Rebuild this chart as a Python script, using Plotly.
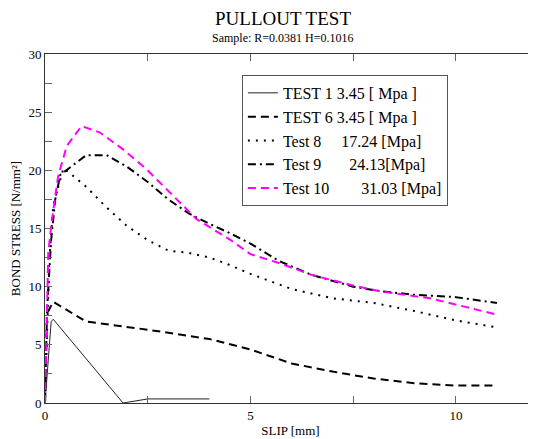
import plotly.graph_objects as go

NB = "\u00a0"

t1_x = [0, 0.15, 0.2, 1.9, 2.5, 4.0]
t1_y = [0, 7.0, 7.2, 0, 0.35, 0.35]

t6_x = [0, 0.05, 0.2, 1.0, 2.5, 4.0, 5.0, 6.0, 7.0, 8.0, 9.0, 10.0, 11.0]
t6_y = [0, 7.7, 8.7, 7.0, 6.3, 5.5, 4.6, 3.4, 2.7, 2.1, 1.7, 1.5, 1.5]

t8_x = [0, 0.1, 0.2, 0.45, 1.0, 1.5, 2.0, 2.5, 3.0, 3.5, 4.0, 4.4, 5.0, 6.0, 7.0, 8.0, 9.0, 10.0, 11.0]
t8_y = [0, 12.0, 17.0, 20.2, 18.6, 16.8, 15.2, 14.0, 13.1, 12.9, 12.5, 12.0, 11.1, 9.8, 9.0, 8.6, 7.9, 7.1, 6.5]

t9_x = [0, 0.05, 0.15, 0.25, 0.37, 0.7, 1.0, 1.5, 2.0, 2.5, 3.0, 3.5, 4.0, 4.5, 5.0, 5.7, 6.5, 7.5, 8.2, 9.0, 10.0, 11.0]
t9_y = [0, 8.0, 14.0, 17.5, 19.6, 20.5, 21.3, 21.3, 20.3, 19.0, 17.5, 16.3, 15.4, 14.6, 13.7, 12.2, 11.0, 10.0, 9.6, 9.3, 9.1, 8.6]

t10_x = [0, 0.08, 0.16, 0.32, 0.53, 0.89, 1.34, 1.9, 2.47, 3.12, 3.69, 4.5, 5.0, 5.72, 6.5, 7.5, 8.15, 9.37, 10.2, 11.0]
t10_y = [0, 12.9, 15.5, 19.5, 22.1, 23.8, 23.25, 21.8, 20.1, 17.8, 15.8, 14.05, 12.8, 12.0, 11.0, 10.1, 9.6, 9.0, 8.3, 7.6]

names = [
    "TEST 1 3.45 [ Mpa ]",
    "TEST 6 3.45 [ Mpa ]",
    "Test 8" + NB * 5 + "17.24 [Mpa]",
    "Test 9" + NB * 7 + "24.13[Mpa]",
    "Test 10" + NB * 8 + "31.03 [Mpa]",
]

fig = go.Figure()
fig.add_trace(go.Scatter(x=t1_x, y=t1_y, mode="lines", name=names[0],
                         line=dict(color="#222222", width=1)))
fig.add_trace(go.Scatter(x=t6_x, y=t6_y, mode="lines", name=names[1],
                         line=dict(color="black", width=2, dash="8px,5px")))
fig.add_trace(go.Scatter(x=t8_x, y=t8_y, mode="lines", name=names[2],
                         line=dict(color="black", width=2, dash="2px,6px")))
fig.add_trace(go.Scatter(x=t9_x, y=t9_y, mode="lines", name=names[3],
                         line=dict(color="black", width=2, dash="8px,4px,2px,4px")))
fig.add_trace(go.Scatter(x=t10_x, y=t10_y, mode="lines", name=names[4],
                         line=dict(color="#ff00ff", width=2, dash="8px,5px")))

serif = "Liberation Serif"
axis_common = dict(
    showgrid=False, zeroline=False, showline=True, linecolor="#333333", linewidth=1,
    mirror="allticks", ticks="inside", ticklen=7, tickcolor="#666666",
    tickfont=dict(family=serif, size=13, color="black"),
    minor=dict(ticks="inside", ticklen=7, dtick=2.5, tickcolor="#666666"),
)

# The page body adds an 8px offset, so the figure is 8px smaller and margins shifted
fig.update_layout(
    width=528, height=431,
    margin=dict(l=37, r=0, t=46, b=36, autoexpand=False),
    paper_bgcolor="white", plot_bgcolor="white",
    font=dict(family=serif, color="black"),
    xaxis=dict(range=[0, 11.95], dtick=5, tick0=0,
               title=dict(text="SLIP [mm]", font=dict(family=serif, size=13), standoff=4),
               **axis_common),
    yaxis=dict(range=[0, 30], dtick=5, tick0=0,
               title=dict(text="BOND STRESS [N/mm²]", font=dict(family=serif, size=13), standoff=6),
               **axis_common),
    legend=dict(x=0.401, y=0.94, xanchor="left", yanchor="top",
                bgcolor="white", bordercolor="#555555", borderwidth=1,
                font=dict(family=serif, size=16, color="black"),
                itemwidth=30, tracegroupgap=0),
    showlegend=True,
    annotations=[
        dict(text="PULLOUT TEST", xref="paper", yref="paper", x=0.485, y=1.0,
             yshift=36, xanchor="center", yanchor="middle", showarrow=False,
             font=dict(family=serif, size=19, color="black")),
        dict(text="Sample: R=0.0381 H=0.1016", xref="paper", yref="paper", x=0.485, y=1.0,
             yshift=16, xanchor="center", yanchor="middle", showarrow=False,
             font=dict(family=serif, size=12, color="black")),
    ],
)

fig.write_html("out.html")
